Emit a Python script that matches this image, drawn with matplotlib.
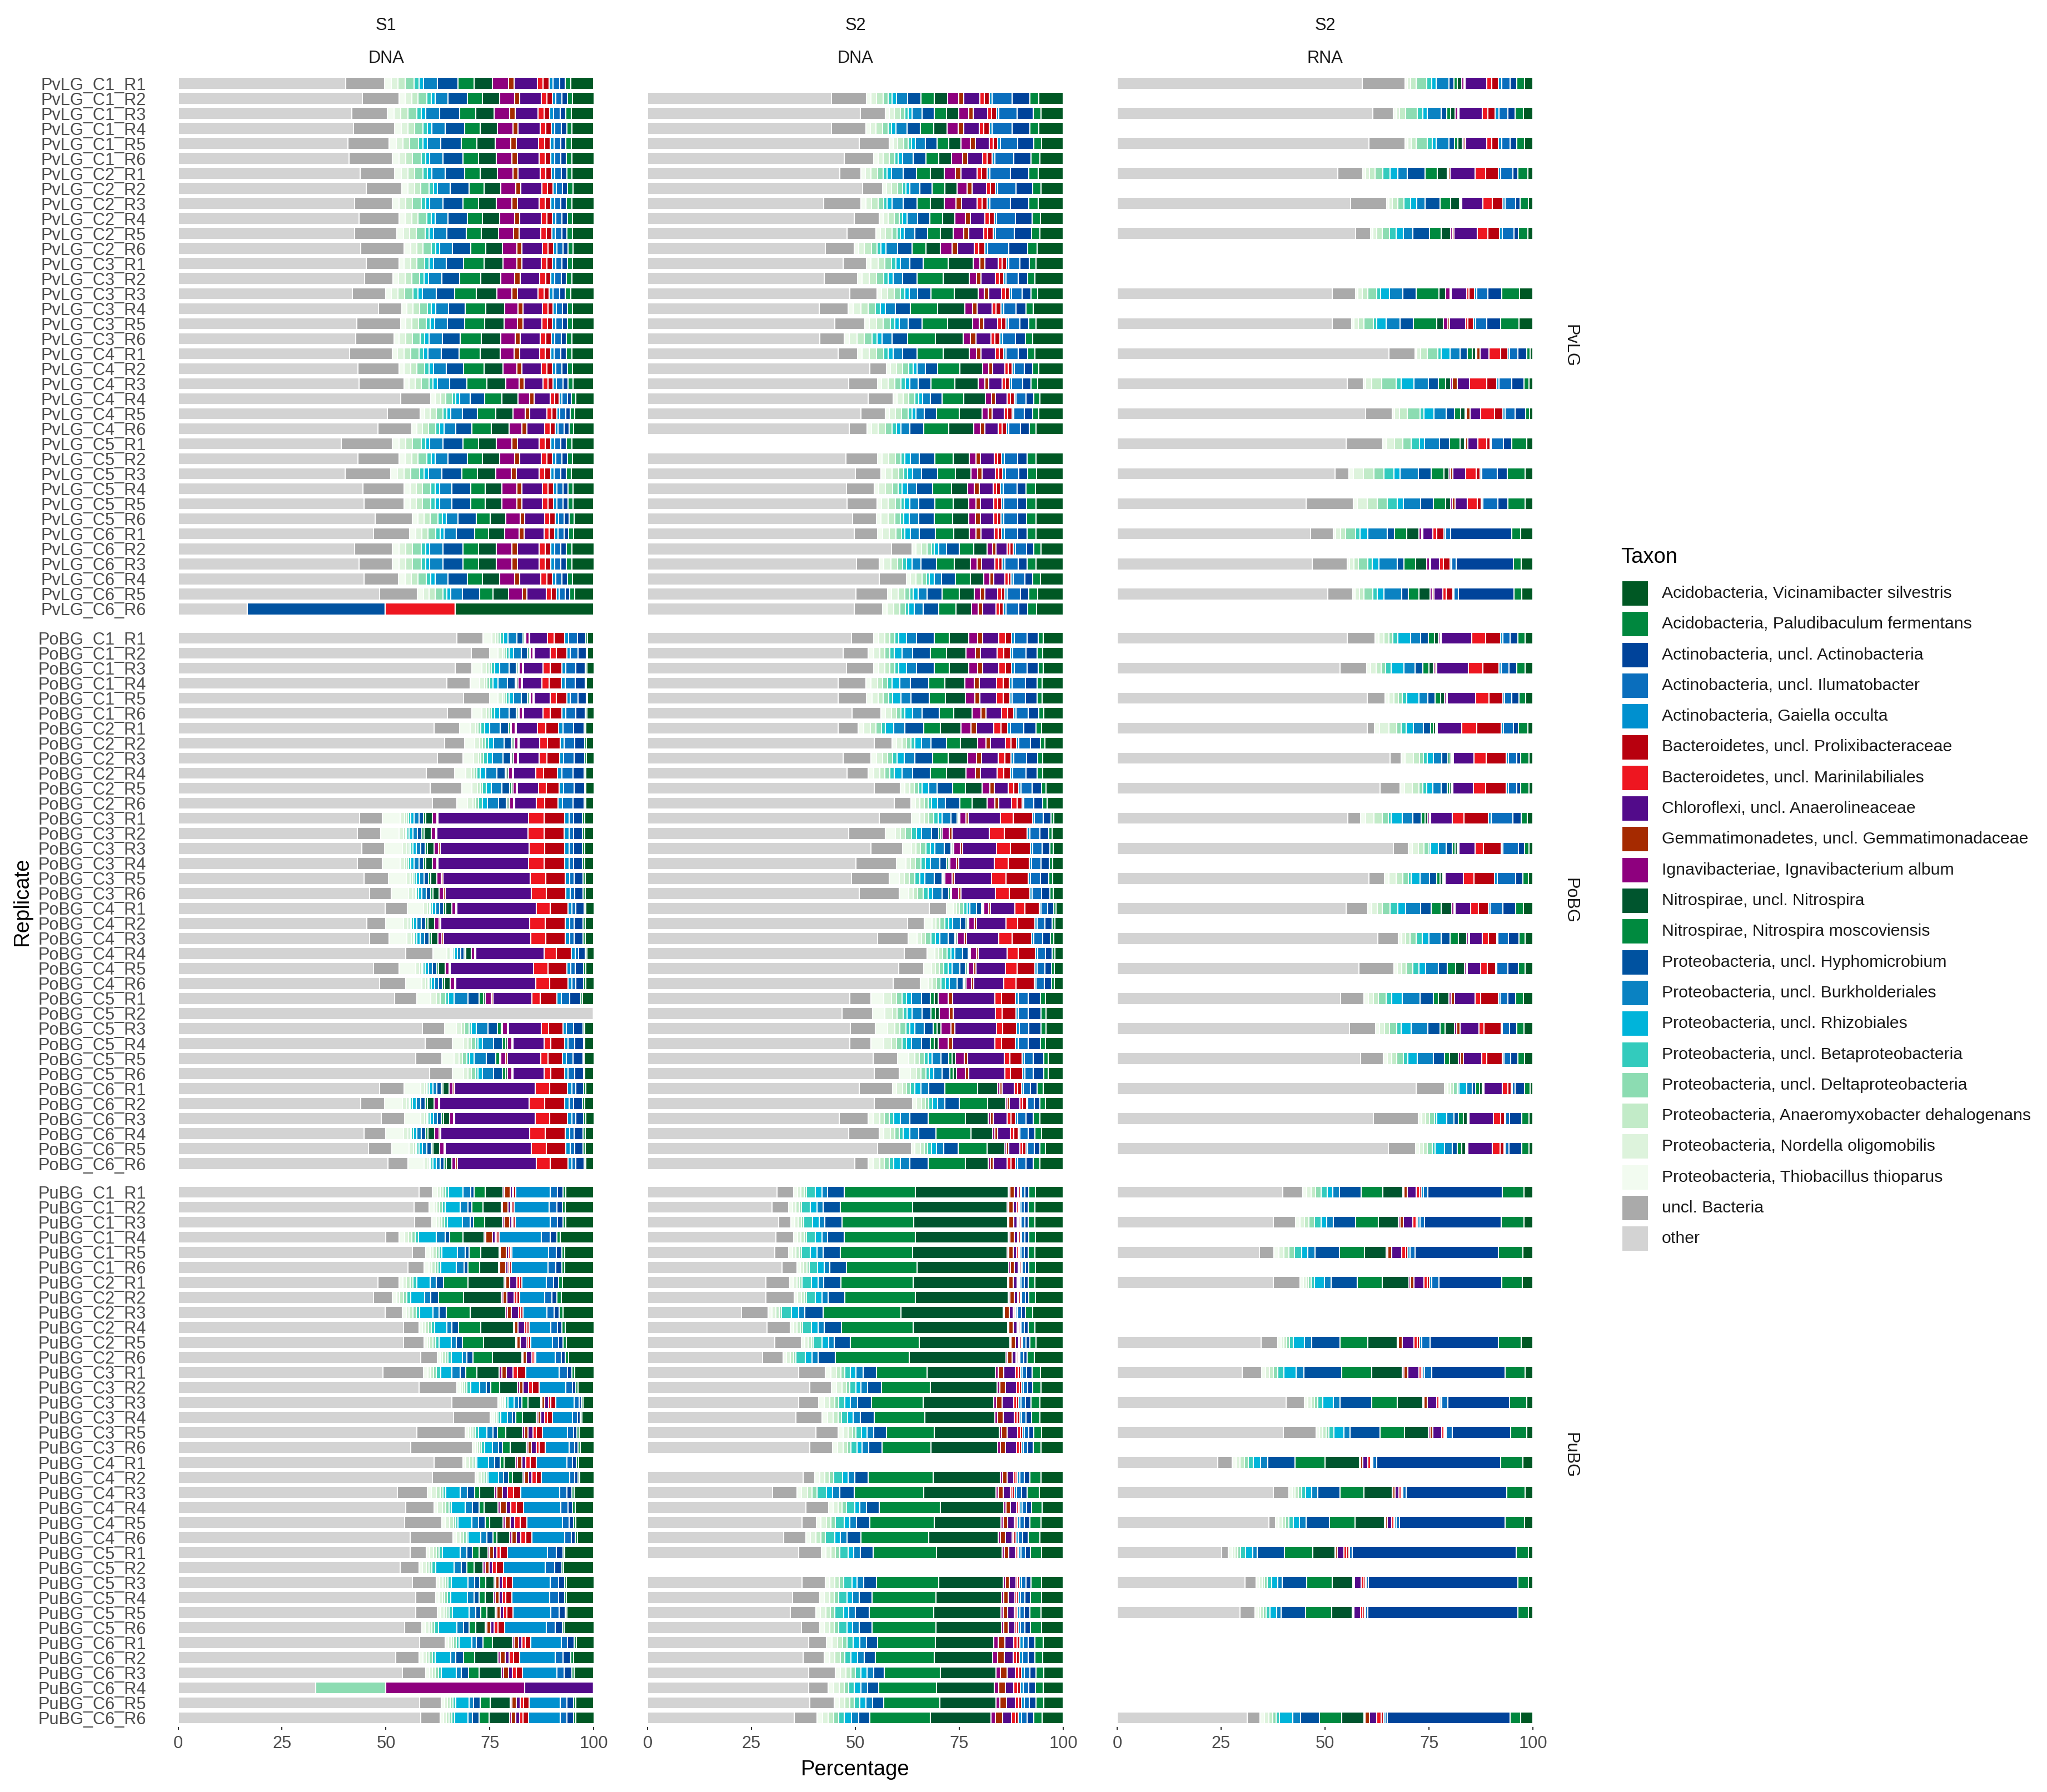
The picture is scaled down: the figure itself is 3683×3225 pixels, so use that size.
import numpy as np
import matplotlib
matplotlib.use('Agg')
import matplotlib.pyplot as plt
from matplotlib.patches import Rectangle

plt.rcParams['font.family'] = ['Liberation Sans', 'DejaVu Sans']

# legend order, top to bottom; bars are stacked in reverse (other at 0)
taxa = [
    'Acidobacteria, Vicinamibacter silvestris',
    'Acidobacteria, Paludibaculum fermentans',
    'Actinobacteria, uncl. Actinobacteria',
    'Actinobacteria, uncl. Ilumatobacter',
    'Actinobacteria, Gaiella occulta',
    'Bacteroidetes, uncl. Prolixibacteraceae',
    'Bacteroidetes, uncl. Marinilabiliales',
    'Chloroflexi, uncl. Anaerolineaceae',
    'Gemmatimonadetes, uncl. Gemmatimonadaceae',
    'Ignavibacteriae, Ignavibacterium album',
    'Nitrospirae, uncl. Nitrospira',
    'Nitrospirae, Nitrospira moscoviensis',
    'Proteobacteria, uncl. Hyphomicrobium',
    'Proteobacteria, uncl. Burkholderiales',
    'Proteobacteria, uncl. Rhizobiales',
    'Proteobacteria, uncl. Betaproteobacteria',
    'Proteobacteria, uncl. Deltaproteobacteria',
    'Proteobacteria, Anaeromyxobacter dehalogenans',
    'Proteobacteria, Nordella oligomobilis',
    'Proteobacteria, Thiobacillus thioparus',
    'uncl. Bacteria',
    'other',
]
taxa_colors = [
    '#005824', '#00873e', '#00439a', '#0a6ebd', '#0090cf',
    '#b8000e', '#ee1620', '#520b8a', '#a52a00', '#8e007e',
    '#00552e', '#008a3f', '#0052a0', '#0a82c2', '#00b4da',
    '#33cbbd', '#8cdcb2', '#c2ebc8', '#ddf3dc', '#f2fbf0',
    '#aaaaaa', '#d3d3d3',
]

sites = ['PvLG', 'PoBG', 'PuBG']
columns = [('S1', 'DNA'), ('S2', 'DNA'), ('S2', 'RNA')]

# ---- "other" and "uncl. Bacteria" per replicate (C1_R1 ... C6_R6), None = no sample
pvlg_s1_other = [40.3, 44.3, 41.8, 42.2, 40.9, 41.1,
                 43.8, 45.2, 42.5, 43.5, 42.5, 43.9,
                 45.2, 44.9, 41.9, 48.2, 43.0, 42.7,
                 41.2, 43.3, 43.5, 53.6, 50.3, 48.0,
                 39.3, 43.3, 40.2, 44.4, 44.7, 47.4,
                 47.0, 42.5, 43.5, 44.7, 48.5, 16.6]
pvlg_s1_uncl = [9.3, 8.8, 8.5, 9.9, 9.9, 10.4,
                8.3, 8.6, 9.0, 9.6, 10.1, 10.5,
                7.9, 6.8, 8.0, 5.6, 10.5, 9.2,
                10.3, 9.8, 10.8, 7.2, 7.9, 8.2,
                12.2, 9.8, 10.9, 9.9, 9.6, 8.9,
                8.7, 9.0, 8.0, 8.3, 9.1, 0.0]
pvlg_s2_other = [None, 44.2, 51.2, 44.2, 50.9, 47.3,
                 46.3, 51.8, 42.4, 49.7, 48.0, 42.8,
                 47.1, 42.5, 48.6, 41.3, 45.0, 41.5,
                 45.9, 53.5, 48.4, 53.1, 51.4, 48.5,
                 None, 47.7, 50.0, 47.8, 48.0, 49.3,
                 49.7, 58.7, 50.3, 55.8, 50.2, 49.7]
pvlg_s2_uncl = [None, 8.5, 6.0, 8.4, 7.2, 7.1,
                5.0, 4.7, 9.0, 6.0, 7.0, 6.9,
                5.6, 8.0, 6.6, 7.0, 7.3, 5.8,
                4.6, 4.0, 6.9, 6.0, 5.8, 4.3,
                None, 7.6, 6.1, 6.7, 7.2, 5.8,
                5.7, 5.0, 5.5, 6.5, 7.5, 6.8]
pvlg_rna_other = [58.9, None, 61.5, None, 60.5, None,
                  53.1, None, 56.1, None, 57.4, None,
                  None, None, 51.7, None, 51.7, None,
                  65.4, None, 55.3, None, 59.7, None,
                  55.1, None, 52.4, None, 45.5, None,
                  46.5, None, 46.9, None, 50.7, None]
pvlg_rna_uncl = [10.3, None, 4.9, None, 8.8, None,
                 6.0, None, 8.8, None, 3.5, None,
                 None, None, 5.7, None, 4.7, None,
                 6.2, None, 3.9, None, 6.5, None,
                 8.8, None, 3.4, None, 11.3, None,
                 5.5, None, 8.4, None, 6.0, None]

pobg_s1_other = [67.0, 70.5, 66.7, 64.7, 68.6, 64.8,
                 61.5, 64.1, 62.3, 59.7, 60.6, 61.1,
                 43.7, 43.1, 44.2, 43.1, 44.7, 46.0,
                 49.8, 45.4, 46.0, 54.7, 47.0, 48.5,
                 52.1, 100.0, 58.8, 59.4, 57.2, 60.5,
                 48.5, 43.9, 48.9, 44.7, 45.8, 50.5]
pobg_s1_uncl = [6.3, 4.5, 4.0, 5.5, 6.4, 5.9,
                6.2, 4.8, 6.2, 6.8, 7.6, 5.9,
                5.4, 5.6, 5.5, 6.0, 5.9, 5.3,
                5.4, 4.5, 4.8, 6.6, 6.1, 6.3,
                5.3, 0.0, 5.3, 6.6, 6.3, 5.5,
                5.9, 5.7, 5.6, 5.2, 5.6, 4.8]
pobg_s2_other = [49.0, 47.0, 47.8, 45.9, 45.8, 49.2,
                 45.9, 54.5, 47.1, 48.0, 54.5, 59.3,
                 55.7, 48.4, 53.8, 50.1, 49.0, 50.9,
                 67.8, 62.6, 55.3, 61.8, 60.4, 59.1,
                 48.6, 46.8, 48.8, 48.7, 54.3, 54.6,
                 50.9, 54.6, 46.1, 48.4, 55.3, 49.9]
pobg_s2_uncl = [5.4, 6.1, 6.6, 6.6, 6.9, 6.9,
                4.8, 4.3, 6.7, 5.1, 6.3, 4.1,
                7.8, 8.8, 7.5, 9.8, 9.2, 9.7,
                4.1, 4.0, 7.4, 5.5, 6.0, 6.5,
                5.2, 7.3, 6.0, 5.1, 5.9, 6.0,
                8.0, 9.2, 7.0, 7.4, 8.2, 3.2]
pobg_rna_other = [55.4, None, 53.6, None, 60.1, None,
                  60.1, None, 65.6, None, 63.2, None,
                  55.5, None, 66.4, None, 60.5, None,
                  55.1, None, 62.7, None, 58.1, None,
                  53.8, None, 55.9, None, 58.5, None,
                  71.9, None, 61.6, None, 65.2, None]
pobg_rna_uncl = [6.6, None, 6.4, None, 4.4, None,
                 1.8, None, 2.7, None, 4.9, None,
                 3.0, None, 3.7, None, 3.8, None,
                 5.2, None, 4.9, None, 8.5, None,
                 5.6, None, 6.3, None, 5.6, None,
                 6.9, None, 10.8, None, 6.6, None]

pubg_s1_other = [57.9, 56.7, 56.9, 49.9, 56.3, 55.3,
                 48.0, 47.0, 49.8, 54.2, 54.2, 58.3,
                 49.2, 57.9, 65.8, 66.3, 57.4, 56.0,
                 61.6, 61.1, 52.7, 54.8, 54.5, 55.8,
                 55.8, 53.4, 56.4, 57.2, 57.2, 54.5,
                 58.1, 52.3, 53.9, 33.1, 58.1, 58.3]
pubg_s1_uncl = [3.3, 3.7, 4.1, 3.3, 3.2, 3.9,
                5.2, 4.6, 4.2, 3.7, 4.9, 4.0,
                9.8, 9.1, 11.2, 8.8, 11.7, 14.8,
                6.9, 10.3, 7.3, 6.7, 8.9, 10.3,
                3.9, 4.5, 5.7, 4.7, 5.2, 4.1,
                6.1, 5.6, 5.6, 0.0, 5.2, 4.7]
pubg_s2_other = [31.2, 29.9, 31.6, 30.9, 30.6, 32.3,
                 28.5, 28.5, 22.6, 28.7, 30.6, 27.7,
                 36.4, 39.0, 36.4, 35.7, 40.5, 39.1,
                 None, 37.4, 30.1, 38.1, 37.2, 32.7,
                 36.4, None, 37.1, 34.9, 34.4, 37.0,
                 38.8, 37.4, 38.8, 38.8, 39.1, 35.3]
pubg_s2_uncl = [4.0, 4.1, 2.9, 4.3, 3.4, 3.6,
                5.7, 6.8, 6.4, 5.6, 6.4, 4.9,
                6.4, 5.2, 4.8, 6.3, 5.3, 5.4,
                None, 2.9, 5.8, 5.5, 3.5, 5.4,
                5.4, None, 5.7, 6.6, 6.1, 4.5,
                4.3, 5.1, 6.4, 4.7, 5.8, 5.5]
pubg_rna_other = [39.9, None, 37.6, None, 34.2, None,
                  37.5, None, None, None, 34.6, None,
                  30.1, None, 40.6, None, 40.0, None,
                  24.2, None, 37.6, None, 36.5, None,
                  25.2, None, 30.7, None, 29.6, None,
                  None, None, None, None, None, 31.3]
pubg_rna_uncl = [4.7, None, 5.3, None, 3.5, None,
                 6.5, None, None, None, 4.0, None,
                 4.6, None, 4.4, None, 7.9, None,
                 3.5, None, 3.7, None, 1.6, None,
                 1.6, None, 2.7, None, 3.5, None,
                 None, None, None, None, None, 3.1]

# ---- composition of the named taxa per treatment group, stack order:
# Thiobacillus, Nordella, Anaeromyxobacter, Delta, Beta, Rhizobiales, Burkholderiales,
# Hyphomicrobium, N. moscoviensis, uncl. Nitrospira, Ignavibacterium, Gemmatimonadaceae,
# Anaerolineaceae, Marinilabiliales, Prolixibacteraceae, Gaiella, Ilumatobacter,
# uncl. Actinobacteria, Paludibaculum, Vicinamibacter
pvlg_s1_a = [1.5, 1.5, 1.5, 2.0, 1.0, 1.0, 3.0, 4.5, 3.5, 4.0, 3.5, 1.2, 5.0, 1.3, 1.3, 0.8, 1.5, 1.2, 1.2, 5.0]
pvlg_s1_b = [1.2, 1.5, 1.5, 1.8, 1.0, 1.0, 3.0, 4.0, 4.8, 4.5, 3.2, 1.2, 4.5, 1.3, 1.2, 0.8, 1.5, 1.2, 1.2, 5.0]
pvlg_s2_a = [1.0, 1.2, 1.5, 1.2, 0.8, 1.0, 2.5, 3.0, 3.0, 3.0, 2.5, 1.2, 3.5, 1.0, 1.2, 0.6, 4.5, 4.0, 2.0, 5.5]
pvlg_s2_b = [1.0, 1.5, 1.5, 1.5, 1.0, 1.0, 2.0, 3.0, 5.5, 5.5, 1.5, 1.0, 3.0, 0.8, 1.0, 0.5, 2.5, 2.0, 1.5, 6.0]
pvlg_s2_c = [1.0, 1.5, 1.5, 1.2, 0.8, 1.2, 2.0, 3.5, 4.0, 3.5, 1.5, 1.0, 3.0, 0.8, 0.8, 0.6, 3.0, 2.0, 2.0, 6.0]
pvlg_rna_c1 = [0.6, 0.8, 1.2, 2.5, 1.2, 1.0, 3.0, 1.2, 0.8, 1.0, 0.5, 0.3, 5.0, 1.2, 1.5, 0.8, 2.0, 1.5, 1.8, 2.0]
pvlg_rna_c2 = [0.5, 0.8, 1.2, 1.5, 1.5, 1.5, 2.0, 3.5, 2.5, 2.0, 0.3, 0.3, 5.0, 2.2, 2.5, 0.5, 2.5, 1.0, 2.0, 1.0]
pvlg_rna_c3 = [0.5, 1.0, 1.2, 2.0, 0.8, 2.0, 3.0, 3.0, 5.0, 1.5, 1.0, 0.3, 3.5, 0.5, 1.2, 0.5, 2.5, 3.0, 4.0, 3.0]
pvlg_rna_c4 = [0.5, 1.2, 2.0, 3.0, 1.0, 2.5, 3.0, 2.0, 1.5, 1.0, 0.3, 1.0, 2.5, 3.5, 2.0, 0.5, 2.5, 2.5, 1.0, 0.8]
pvlg_rna_c5 = [0.8, 2.0, 2.0, 2.0, 2.0, 1.2, 3.5, 2.5, 2.5, 1.0, 0.3, 0.5, 2.5, 2.0, 0.8, 0.3, 3.0, 2.0, 3.5, 1.5]
pvlg_rna_c6 = [0.5, 1.0, 1.0, 2.0, 1.0, 1.5, 4.0, 1.5, 2.5, 2.5, 0.5, 0.3, 2.0, 0.8, 1.5, 0.3, 1.0, 12.5, 1.8, 2.5]

pobg_s1_a = [2.0, 1.0, 0.5, 0.5, 0.7, 1.0, 2.0, 1.5, 0.3, 0.3, 0.7, 0.2, 4.0, 1.5, 2.5, 0.8, 2.0, 2.0, 0.3, 1.5]
pobg_s1_b = [4.0, 1.0, 0.5, 0.3, 0.5, 0.8, 1.0, 1.0, 0.5, 1.5, 1.0, 0.3, 20.0, 3.5, 4.5, 1.0, 1.0, 2.0, 0.5, 2.0]
pobg_s1_c = [2.5, 1.0, 0.7, 1.0, 0.5, 1.0, 2.5, 2.0, 0.8, 0.3, 1.0, 0.3, 7.0, 1.5, 3.0, 0.8, 1.5, 2.0, 0.3, 2.0]
pobg_s2_a = [1.0, 1.2, 1.0, 1.0, 0.8, 1.5, 2.0, 3.5, 3.0, 3.8, 1.8, 1.0, 3.2, 1.3, 1.2, 0.5, 2.5, 2.2, 1.0, 4.0]
pobg_s2_b = [2.0, 1.0, 1.0, 1.2, 1.0, 1.0, 2.0, 1.5, 0.3, 0.3, 1.5, 0.5, 7.5, 3.0, 4.5, 0.5, 2.0, 1.8, 0.7, 2.2]
pobg_s2_c = [2.5, 1.5, 1.0, 1.2, 0.8, 1.0, 2.0, 1.8, 0.8, 0.8, 2.0, 0.8, 8.5, 1.3, 2.8, 0.5, 2.0, 2.5, 1.0, 3.5]
pobg_s2_d = [1.0, 1.5, 1.0, 1.0, 1.0, 1.5, 2.0, 4.0, 8.0, 5.0, 0.5, 0.6, 3.0, 0.8, 1.0, 0.4, 1.8, 1.6, 1.5, 5.0]
pobg_rna_c1 = [0.8, 1.0, 1.0, 0.8, 1.0, 2.5, 2.0, 1.5, 1.2, 0.8, 0.3, 0.3, 6.0, 2.8, 3.0, 0.4, 1.5, 1.5, 1.5, 1.5]
pobg_rna_c2 = [1.0, 2.0, 1.5, 1.0, 1.0, 1.5, 2.0, 1.5, 0.5, 0.5, 0.2, 0.2, 5.0, 3.0, 5.0, 0.5, 2.0, 1.0, 2.0, 1.0]
pobg_rna_c3 = [1.0, 1.5, 1.5, 1.2, 0.5, 2.0, 2.0, 1.5, 0.8, 0.5, 0.3, 0.2, 4.0, 2.2, 4.5, 0.5, 4.0, 1.5, 1.2, 1.0]
pobg_rna_c4 = [0.8, 1.0, 1.0, 1.5, 1.5, 1.5, 3.0, 2.0, 2.0, 2.0, 0.4, 0.3, 3.0, 1.5, 2.0, 0.3, 2.5, 2.5, 1.5, 1.8]
pobg_rna_c5 = [0.8, 1.0, 1.0, 1.5, 1.0, 2.0, 3.5, 2.5, 1.0, 2.0, 0.5, 0.6, 4.0, 1.0, 3.5, 0.3, 1.5, 1.5, 1.5, 1.8]
pobg_rna_c6 = [0.8, 0.8, 0.8, 1.0, 0.5, 2.0, 1.5, 1.0, 1.0, 0.8, 0.2, 0.2, 5.0, 1.5, 0.8, 0.3, 0.8, 2.5, 1.5, 0.8]

pubg_s1_c1 = [1.0, 0.6, 0.6, 0.6, 0.6, 3.2, 1.6, 0.8, 2.4, 3.8, 0.3, 1.2, 0.5, 0.3, 0.4, 7.5, 1.6, 1.2, 0.6, 6.0]
pubg_s1_c2 = [0.8, 0.6, 0.8, 0.6, 0.8, 2.8, 1.2, 1.5, 5.0, 7.5, 0.3, 0.8, 1.5, 0.5, 0.5, 5.0, 1.5, 1.0, 0.8, 6.5]
pubg_s1_c3 = [0.8, 0.5, 0.5, 0.5, 0.8, 2.0, 1.5, 1.0, 2.0, 4.0, 0.5, 0.8, 1.2, 0.8, 1.5, 6.0, 1.5, 0.8, 0.5, 3.5]
pubg_s1_c4 = [0.8, 1.0, 0.8, 0.6, 0.5, 3.0, 1.5, 1.5, 1.0, 3.0, 0.5, 1.2, 1.0, 1.2, 1.5, 8.0, 1.5, 1.0, 0.5, 4.0]
pubg_s1_c5 = [0.8, 0.8, 0.6, 0.6, 0.8, 4.0, 1.5, 1.2, 1.5, 2.0, 0.4, 0.8, 0.8, 0.8, 1.5, 9.0, 2.0, 1.5, 0.4, 6.5]
pubg_s1_c6 = [0.8, 0.6, 0.6, 0.6, 0.6, 3.0, 1.0, 1.5, 2.2, 4.5, 0.4, 1.0, 0.8, 0.8, 1.2, 7.0, 1.5, 1.5, 0.5, 4.0]
pubg_s2_a = [0.8, 0.8, 0.7, 0.5, 2.0, 1.5, 1.3, 3.8, 16.0, 21.0, 0.3, 1.0, 0.8, 0.3, 0.3, 0.3, 0.8, 0.8, 1.5, 6.3]
pubg_s2_b = [1.2, 1.2, 1.0, 0.8, 1.3, 1.2, 1.5, 3.0, 11.0, 15.0, 0.6, 1.2, 2.5, 0.6, 0.5, 0.4, 1.0, 1.2, 1.8, 5.0]
pubg_s2_c = [1.0, 1.2, 1.0, 1.0, 2.0, 1.2, 1.5, 3.0, 14.5, 15.0, 0.5, 1.0, 1.5, 0.4, 0.4, 0.5, 1.0, 1.2, 2.5, 5.0]
pubg_s2_d = [1.2, 1.2, 1.2, 1.0, 1.3, 1.5, 1.5, 2.5, 13.0, 13.0, 1.0, 1.5, 2.0, 0.8, 0.6, 0.7, 1.2, 1.5, 1.8, 4.5]
pubg_rna_c1 = [1.0, 1.0, 1.0, 1.2, 1.5, 1.2, 1.5, 5.0, 5.0, 4.5, 0.3, 0.8, 2.0, 0.8, 0.4, 0.5, 1.0, 17.0, 5.0, 2.0]
pubg_rna_c2 = [0.8, 0.6, 0.6, 0.6, 0.8, 2.5, 1.5, 6.3, 6.0, 6.5, 0.3, 0.8, 2.5, 0.8, 0.5, 0.5, 1.8, 15.0, 5.0, 2.5]
pubg_rna_c3 = [0.8, 0.8, 0.8, 0.8, 1.2, 2.5, 1.5, 7.5, 6.0, 6.0, 0.3, 0.8, 2.2, 0.5, 0.3, 0.3, 1.5, 14.5, 4.0, 1.5]
pubg_rna_c4 = [0.8, 0.8, 0.8, 0.8, 1.0, 1.5, 1.5, 5.5, 6.0, 7.0, 0.2, 0.5, 1.0, 0.5, 0.2, 0.3, 0.8, 25.0, 4.5, 2.0]
pubg_rna_c5 = [0.8, 0.6, 0.6, 0.6, 1.0, 1.5, 1.0, 5.8, 6.0, 4.8, 0.1, 0.3, 1.5, 0.6, 0.4, 0.2, 0.5, 35.0, 2.5, 1.0]
pubg_rna_c6 = [1.0, 1.0, 0.8, 0.8, 0.8, 3.0, 1.8, 4.2, 5.1, 5.0, 0.2, 1.0, 1.7, 1.0, 0.5, 0.3, 0.5, 27.8, 2.4, 2.8]

# replicates that do not follow their group
pvlg_s1_c6r6 = [0, 0, 0, 0, 0, 0, 0, 33.2, 0, 0, 0, 0, 0, 16.8, 0, 0, 0, 0, 0, 33.4]
pubg_s1_c6r4 = [0, 0, 0, 16.9, 0, 0, 0, 0, 0, 0, 33.3, 0, 16.7, 0, 0, 0, 0, 0, 0, 0]

panel_data = {
    ('PvLG', 0): (pvlg_s1_other, pvlg_s1_uncl,
                  [pvlg_s1_a, pvlg_s1_a, pvlg_s1_b, pvlg_s1_b, pvlg_s1_a, pvlg_s1_a], {35: pvlg_s1_c6r6}),
    ('PvLG', 1): (pvlg_s2_other, pvlg_s2_uncl,
                  [pvlg_s2_a, pvlg_s2_a, pvlg_s2_b, pvlg_s2_b, pvlg_s2_c, pvlg_s2_c], {}),
    ('PvLG', 2): (pvlg_rna_other, pvlg_rna_uncl,
                  [pvlg_rna_c1, pvlg_rna_c2, pvlg_rna_c3, pvlg_rna_c4, pvlg_rna_c5, pvlg_rna_c6], {}),
    ('PoBG', 0): (pobg_s1_other, pobg_s1_uncl,
                  [pobg_s1_a, pobg_s1_a, pobg_s1_b, pobg_s1_b, pobg_s1_c, pobg_s1_b], {}),
    ('PoBG', 1): (pobg_s2_other, pobg_s2_uncl,
                  [pobg_s2_a, pobg_s2_a, pobg_s2_b, pobg_s2_b, pobg_s2_c, pobg_s2_d], {}),
    ('PoBG', 2): (pobg_rna_other, pobg_rna_uncl,
                  [pobg_rna_c1, pobg_rna_c2, pobg_rna_c3, pobg_rna_c4, pobg_rna_c5, pobg_rna_c6], {}),
    ('PuBG', 0): (pubg_s1_other, pubg_s1_uncl,
                  [pubg_s1_c1, pubg_s1_c2, pubg_s1_c3, pubg_s1_c4, pubg_s1_c5, pubg_s1_c6], {33: pubg_s1_c6r4}),
    ('PuBG', 1): (pubg_s2_other, pubg_s2_uncl,
                  [pubg_s2_a, pubg_s2_a, pubg_s2_b, pubg_s2_c, pubg_s2_c, pubg_s2_d], {}),
    ('PuBG', 2): (pubg_rna_other, pubg_rna_uncl,
                  [pubg_rna_c1, pubg_rna_c2, pubg_rna_c3, pubg_rna_c4, pubg_rna_c5, pubg_rna_c6], {}),
}


def build_rows(other, uncl, profiles, overrides):
    ys, rows = [], []
    for i in range(36):
        if other[i] is None:
            continue
        rest = 100.0 - other[i] - uncl[i]
        if i in overrides:
            vals = np.array(overrides[i], float)
        else:
            prof = np.array(profiles[i // 6], float)
            vals = prof / prof.sum() * rest
        ys.append(i)
        rows.append(np.concatenate([[other[i], uncl[i]], vals]))
    return np.array(ys), np.array(rows)


stack_colors = taxa_colors[::-1]

W, H = 3683, 3225
fig = plt.figure(figsize=(W / 300, H / 300), dpi=300)

col_left = [283.1, 1127.6, 1972.6]
col_w = 822.8
row_top = [133.8, 1132.2, 2129.4]
row_h = 978.2
txt_grey = '#4d4d4d'
fs = 7.4

for si, site in enumerate(sites):
    labels = [f'{site}_C{c}_R{r}' for c in range(1, 7) for r in range(1, 7)]
    for ci in range(3):
        ax = fig.add_axes([col_left[ci] / W, 1 - (row_top[si] + row_h) / H,
                           col_w / W, row_h / H])
        other, uncl, profiles, overrides = panel_data[(site, ci)]
        ys, rows = build_rows(other, uncl, profiles, overrides)
        left = np.zeros(len(ys))
        for j in range(rows.shape[1]):
            ax.barh(ys, rows[:, j], left=left, height=0.8, color=stack_colors[j],
                    edgecolor='white', linewidth=0.5)
            left = left + rows[:, j]
        ax.set_xlim(-5, 105)
        ax.set_ylim(35.6, -0.6)
        for sp in ax.spines.values():
            sp.set_visible(False)
        ax.set_yticks(range(36))
        if ci == 0:
            ax.set_yticklabels(labels, fontsize=fs, color=txt_grey)
            ax.tick_params(axis='y', length=0, pad=4.8)
        else:
            ax.set_yticklabels([])
            ax.tick_params(axis='y', length=0)
        ax.set_xticks([0, 25, 50, 75, 100])
        if si == 2:
            ax.set_xticklabels(['0', '25', '50', '75', '100'], fontsize=fs, color=txt_grey)
            ax.tick_params(axis='x', length=1.3, width=0.5, color='#333333', pad=2.5)
        else:
            ax.set_xticklabels([])
            ax.tick_params(axis='x', length=0)
        if si == 0:
            cx = (col_left[ci] + col_w / 2) / W
            fig.text(cx, 1 - 46 / H, columns[ci][0], fontsize=fs, color='#1a1a1a',
                     ha='center', va='center')
            fig.text(cx, 1 - 105 / H, columns[ci][1], fontsize=fs, color='#1a1a1a',
                     ha='center', va='center')
    fig.text(2826 / W, 1 - (row_top[si] + row_h / 2) / H, site, fontsize=fs,
             color='#1a1a1a', rotation=-90, ha='center', va='center')

fig.text(1539 / W, 1 - 3185 / H, 'Percentage', fontsize=9.2, color='black',
         ha='center', va='center')
fig.text(40 / W, 1 - 1622 / H, 'Replicate', fontsize=9.2, color='black',
         rotation=90, ha='center', va='center')

# legend drawn in pixel coordinates
lax = fig.add_axes([0, 0, 1, 1])
lax.set_xlim(0, W)
lax.set_ylim(H, 0)
lax.axis('off')
lax.text(2916, 1003, 'Taxon', fontsize=9.2, color='black', ha='left', va='center')
for k, (name, col) in enumerate(zip(taxa, taxa_colors)):
    yc = 1068 + 55.3 * k
    lax.add_patch(Rectangle((2918, yc - 23), 48, 46, facecolor=col, edgecolor='white',
                            linewidth=0.5))
    lax.text(2990, yc, name, fontsize=7.25, color='#1a1a1a', ha='left', va='center')

fig.savefig('out.png', dpi=300)
